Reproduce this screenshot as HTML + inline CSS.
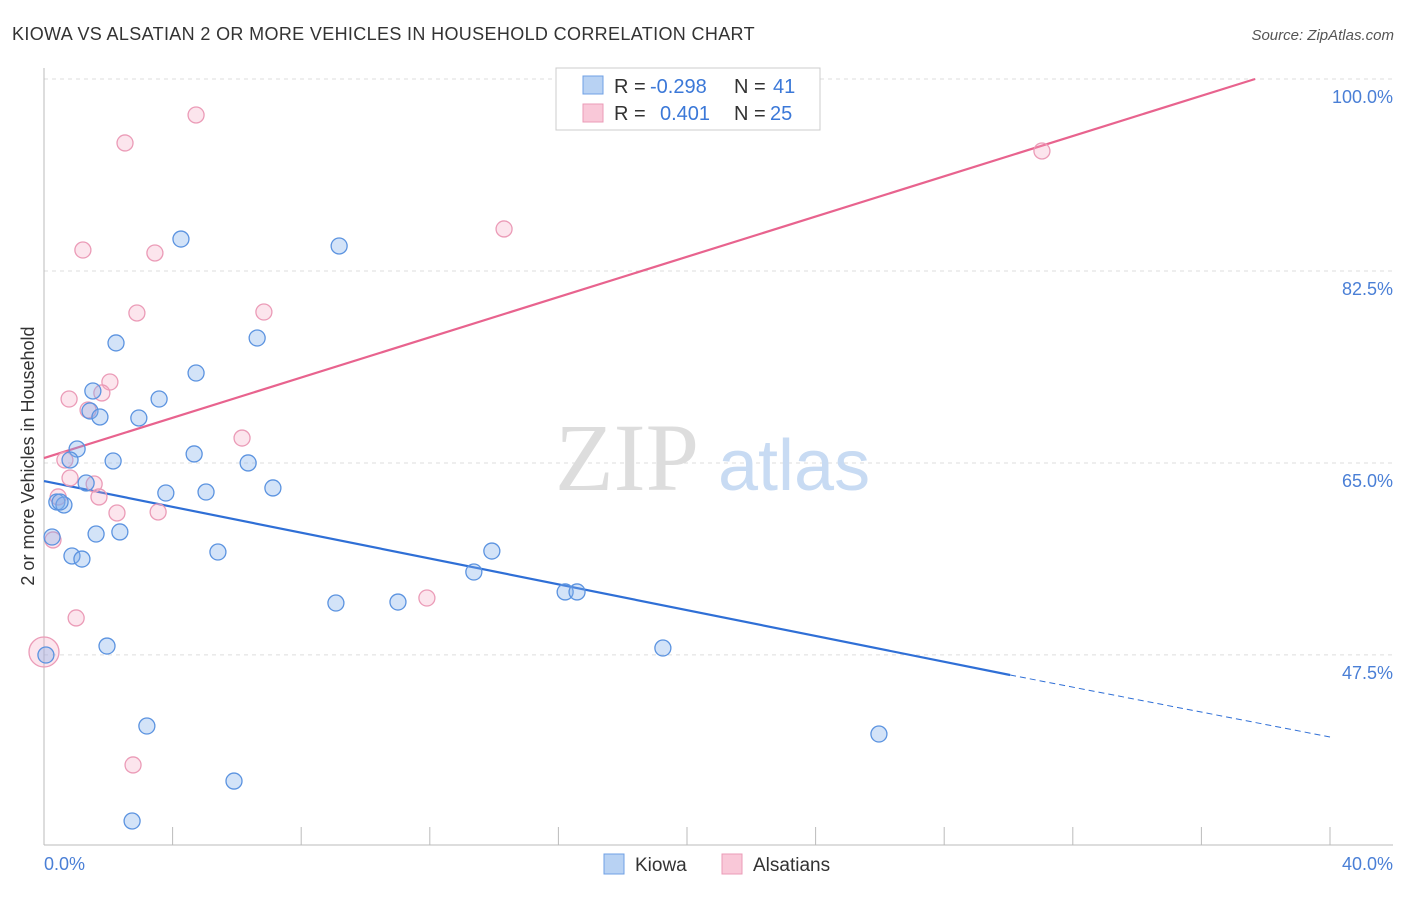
<!DOCTYPE html>
<html><head><meta charset="utf-8"><style>
body{margin:0;background:#fff;font-family:"Liberation Sans",sans-serif;}
</style></head><body>
<svg width="1406" height="892" xmlns="http://www.w3.org/2000/svg">
<text x="12" y="40" font-size="18" fill="#333" letter-spacing="0.35">KIOWA VS ALSATIAN 2 OR MORE VEHICLES IN HOUSEHOLD CORRELATION CHART</text>
<text x="1394" y="40" font-size="15" fill="#555" font-style="italic" text-anchor="end">Source: ZipAtlas.com</text>
<g id="grid"></g>
<g id="axes"></g>
<text x="555" y="490" font-size="96" fill="#ddd" font-family="Liberation Serif,serif">ZIP</text>
<text x="718" y="490" font-size="72" fill="#c8dbf3">atlas</text>
<g id="lines"></g>
<g id="points"></g>
<text transform="translate(34,456) rotate(-90)" font-size="18" fill="#333" text-anchor="middle">2 or more Vehicles in Household</text>
<g>
<rect x="556" y="68" width="264" height="62" fill="#fff" stroke="#ccc"/>
<rect x="583" y="76" width="20" height="18" fill="#b8d2f3" stroke="#6fa0e4"/>
<rect x="583" y="104" width="20" height="18" fill="#f9c8d8" stroke="#eb9bb7"/>
<text x="614" y="93" font-size="20" fill="#333">R =</text>
<text x="650" y="93" font-size="20" fill="#3b78d8">-0.298</text>
<text x="734" y="93" font-size="20" fill="#333">N =</text>
<text x="773" y="93" font-size="20" fill="#3b78d8">41</text>
<text x="614" y="120" font-size="20" fill="#333">R =</text>
<text x="660" y="120" font-size="20" fill="#3b78d8">0.401</text>
<text x="734" y="120" font-size="20" fill="#333">N =</text>
<text x="770" y="120" font-size="20" fill="#3b78d8">25</text>
</g>
<g>
<rect x="604" y="854" width="20" height="20" fill="#b8d2f3" stroke="#6fa0e4"/>
<text x="635" y="871" font-size="19" fill="#333">Kiowa</text>
<rect x="722" y="854" width="20" height="20" fill="#f9c8d8" stroke="#eb9bb7"/>
<text x="753" y="871" font-size="19" fill="#333">Alsatians</text>
</g>
</svg>
<script>
const yTicks=[100,82.5,65,47.5];
const xTickLabels=["0.0%","40.0%"];
const kiowaX=[4.26,9.18,2.24,6.63,4.73,1.52,3.58,1.43,1.74,2.95,1.03,0.81,2.15,4.67,6.35,1.31,3.79,5.04,7.12,0.40,0.62,0.25,1.62,2.36,0.87,1.18,5.41,13.93,13.37,9.08,11.01,16.21,16.58,1.96,19.25,0.06,3.2,25.97,5.91,2.74,0.5];
const kiowaY=[85.41,84.78,75.94,76.39,73.2,71.56,70.83,69.74,69.19,69.1,66.27,65.27,65.18,65.82,65.0,63.17,62.26,62.35,62.72,61.44,61.17,58.25,58.52,58.71,56.52,56.24,56.88,56.97,55.06,52.23,52.32,53.24,53.24,48.31,48.13,47.49,41.02,40.29,36.0,32.36,61.44];
const alsX=[4.73,2.52,1.21,3.45,14.31,2.89,6.84,2.05,0.78,1.8,1.37,6.16,0.65,31.04,0.81,1.56,0.44,1.71,2.27,3.55,0.28,11.91,1.0,2.77,0];
const alsY=[96.72,94.17,84.41,84.14,86.33,78.67,78.76,72.38,70.83,71.38,69.83,67.27,65.27,93.44,63.63,63.08,61.9,61.9,60.44,60.53,57.98,52.69,50.87,37.47,47.77];
const kiowaTrend=[[0,63.35],[30.05,45.67],[40,40.02]];
const alsTrend=[[0,65.45],[37.67,100]];
const NS="http://www.w3.org/2000/svg";
const xs=v=>44+v*32.15, ys=v=>79+(100-v)*10.97;
function mk(t,a,p){const e=document.createElementNS(NS,t);for(const k in a)e.setAttribute(k,a[k]);document.getElementById(p).appendChild(e);return e;}
yTicks.forEach(t=>{
 const l=mk('line',{x1:44,x2:1393,y1:ys(t),y2:ys(t),stroke:'#ddd','stroke-dasharray':'4,4'},'grid');
 
 
 const tx=mk('text',{x:1393,y:ys(t)+24,'font-size':18,fill:'#4a7fd6','text-anchor':'end'},'grid');
 tx.textContent=t.toFixed(1)+'%';
 
 
});
mk('line',{x1:44,x2:44,y1:68,y2:845,stroke:'#bbb'},'axes');
mk('line',{x1:44,x2:1393,y1:845,y2:845,stroke:'#bbb'},'axes');
for(let i=0;i<=10;i++){mk('line',{x1:xs(i*4),x2:xs(i*4),y1:827,y2:845,stroke:'#bbb'},'axes');}
xTickLabels.forEach((s,i)=>{const t=mk('text',{x:i?1393:44,y:870,'font-size':18,fill:'#4a7fd6','text-anchor':i?'end':'start'},'axes');t.textContent=s;
 
 });
let b=mk('line',{x1:xs(kiowaTrend[0][0]),y1:ys(kiowaTrend[0][1]),x2:xs(kiowaTrend[1][0]),y2:ys(kiowaTrend[1][1]),stroke:'#2f6fd6','stroke-width':2.2},'lines');


b=mk('line',{x1:xs(kiowaTrend[1][0]),y1:ys(kiowaTrend[1][1]),x2:xs(kiowaTrend[2][0]),y2:ys(kiowaTrend[2][1]),stroke:'#2f6fd6','stroke-width':1,'stroke-dasharray':'6,4'},'lines');


b=mk('line',{x1:xs(alsTrend[0][0]),y1:ys(alsTrend[0][1]),x2:xs(alsTrend[1][0]),y2:ys(alsTrend[1][1]),stroke:'#e8638e','stroke-width':2.2},'lines');


alsX.forEach((x,i)=>{const c=mk('circle',{cx:xs(x),cy:ys(alsY[i]),r:i==24?15:8,fill:'rgba(244,170,196,0.3)',stroke:'#eb9bb7','stroke-width':1.3},'points');
 
 });
kiowaX.forEach((x,i)=>{const c=mk('circle',{cx:xs(x),cy:ys(kiowaY[i]),r:8,fill:'rgba(130,175,235,0.35)',stroke:'#5b93e0','stroke-width':1.3},'points');
 
 });
</script>
</body></html>
